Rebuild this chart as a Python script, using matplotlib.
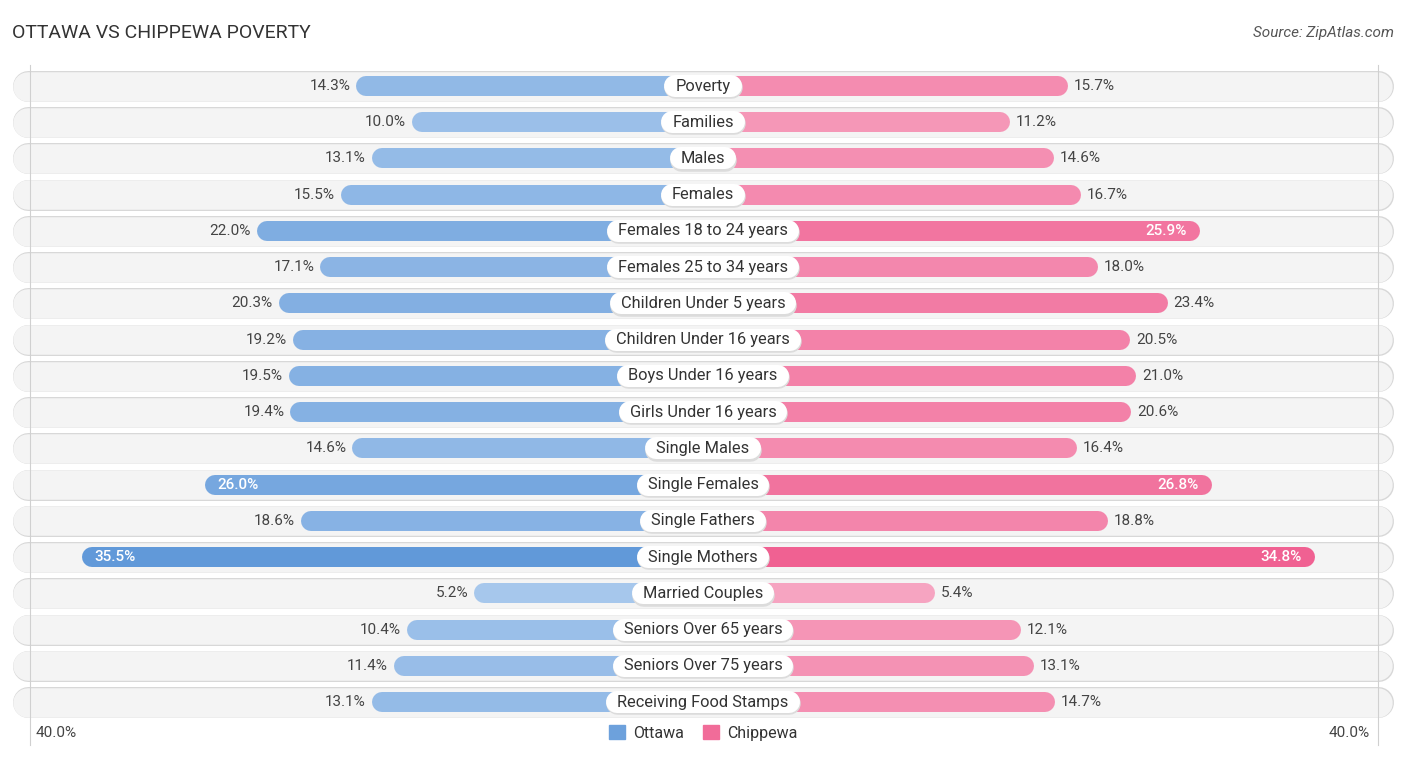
import matplotlib.pyplot as plt
from matplotlib.patches import Patch
import numpy as np

categories = ['Poverty', 'Families', 'Males', 'Females', 'Females 18 to 24 years',
              'Females 25 to 34 years', 'Children Under 5 years', 'Children Under 16 years',
              'Boys Under 16 years', 'Girls Under 16 years', 'Single Males', 'Single Females',
              'Single Fathers', 'Single Mothers', 'Married Couples', 'Seniors Over 65 years',
              'Seniors Over 75 years', 'Receiving Food Stamps']
ottawa = [14.3, 10.0, 13.1, 15.5, 22.0, 17.1, 20.3, 19.2, 19.5, 19.4, 14.6, 26.0,
          18.6, 35.5, 5.2, 10.4, 11.4, 13.1]
chippewa = [15.7, 11.2, 14.6, 16.7, 25.9, 18.0, 23.4, 20.5, 21.0, 20.6, 16.4, 26.8,
            18.8, 34.8, 5.4, 12.1, 13.1, 14.7]
inside_ottawa = [26.0, 35.5]
inside_chippewa = [25.9, 26.8, 34.8]

W, H = 1406, 758
PX = 0.72  # points per pixel at dpi 100
UNIT = 12.94  # pixels per percent
OFFSET = 12.5  # bars start behind the centre label
XLIM = 703 / UNIT

blue_lo, blue_hi = np.array([0.70, 0.81, 0.94]), np.array([0.38, 0.60, 0.85])
pink_lo, pink_hi = np.array([0.97, 0.69, 0.79]), np.array([0.94, 0.38, 0.57])


def shade(lo, hi, v):
    t = min(v / 35.0, 1.0)
    return tuple(lo + (hi - lo) * t)


fig = plt.figure(figsize=(W / 100, H / 100), dpi=100)
ax = fig.add_axes([0, 0, 1, 1])
ax.set_xlim(-XLIM, XLIM)
row_px = 36.24
ax.set_ylim((H - 86) / row_px, -86 / row_px)
ax.axis('off')
renderer = fig.canvas.get_renderer()

font = 'Roboto'
r_bar = 10 / UNIT
r_row = 15 / UNIT
row_end = 53.35 - r_row
dy = 1 / row_px

for i, cat in enumerate(categories):
    # row background pill
    ax.plot([-row_end, row_end], [i, i], color='#d8d8d8', lw=31 * PX,
            solid_capstyle='round', zorder=1)
    ax.plot([-row_end, row_end], [i + 0.6 * dy, i + 0.6 * dy], color='#f4f4f4',
            lw=29.5 * PX, solid_capstyle='round', zorder=1.1)

    o, c = ottawa[i], chippewa[i]
    lo = OFFSET + o
    lc = OFFSET + c
    ax.plot([-(lo - r_bar), 0], [i, i], color=shade(blue_lo, blue_hi, o),
            lw=20 * PX, solid_capstyle='round', zorder=3)
    ax.plot([0, lc - r_bar], [i, i], color=shade(pink_lo, pink_hi, c),
            lw=20 * PX, solid_capstyle='round', zorder=3)

    if o in inside_ottawa:
        ax.text(-lo + 1.0, i, f'{o:.1f}%', ha='left', va='center', color='white',
                fontsize=11, family=font, fontweight='medium', zorder=5)
    else:
        ax.text(-lo - 0.45, i, f'{o:.1f}%', ha='right', va='center', color='#444444',
                fontsize=11, family=font, zorder=5)
    if c in inside_chippewa:
        ax.text(lc - 1.0, i, f'{c:.1f}%', ha='right', va='center', color='white',
                fontsize=11, family=font, fontweight='medium', zorder=5)
    else:
        ax.text(lc + 0.45, i, f'{c:.1f}%', ha='left', va='center', color='#444444',
                fontsize=11, family=font, zorder=5)

    t = ax.text(0, i, cat, ha='center', va='center', color='#333333', fontsize=11.8,
                family=font, zorder=7)
    half = t.get_window_extent(renderer).width / 2 / UNIT
    # label box: white pill with a faint shadow
    ax.plot([-half, half], [i + 1.2 * dy, i + 1.2 * dy], color='#dcdcdc', lw=22.5 * PX,
            solid_capstyle='round', zorder=5.5)
    ax.plot([-half, half], [i, i], color='white', lw=22 * PX,
            solid_capstyle='round', zorder=6)

# light vertical gridlines
for gx in (-52.0, 52.15):
    ax.plot([gx, gx], [-0.58, 18.18], color='#d0d0d0', lw=0.8, zorder=2)

ax.text(-51.6, 17.85, '40.0%', ha='left', va='center', color='#444444',
        fontsize=11, family=font)
ax.text(51.5, 17.85, '40.0%', ha='right', va='center', color='#444444',
        fontsize=11, family=font)

fig.text(12 / W, 1 - 33 / H, 'OTTAWA VS CHIPPEWA POVERTY', ha='left', va='center',
         fontsize=14, color='#333333', family=font)
fig.text(1394 / W, 1 - 33 / H, 'Source: ZipAtlas.com', ha='right', va='center',
         fontsize=11, color='#555555', family=font, style='italic')

handles = [Patch(color=shade(blue_lo, blue_hi, 30), label='Ottawa'),
           Patch(color=shade(pink_lo, pink_hi, 30), label='Chippewa')]
fig.legend(handles=handles, loc='center', bbox_to_anchor=(0.5, 1 - 733 / H), ncol=2,
           frameon=False, handlelength=1.0, handleheight=1.0, handletextpad=0.5,
           columnspacing=1.2, prop={'family': font, 'size': 11.5}, labelcolor='#333333')

fig.savefig('out.png', dpi=100)
